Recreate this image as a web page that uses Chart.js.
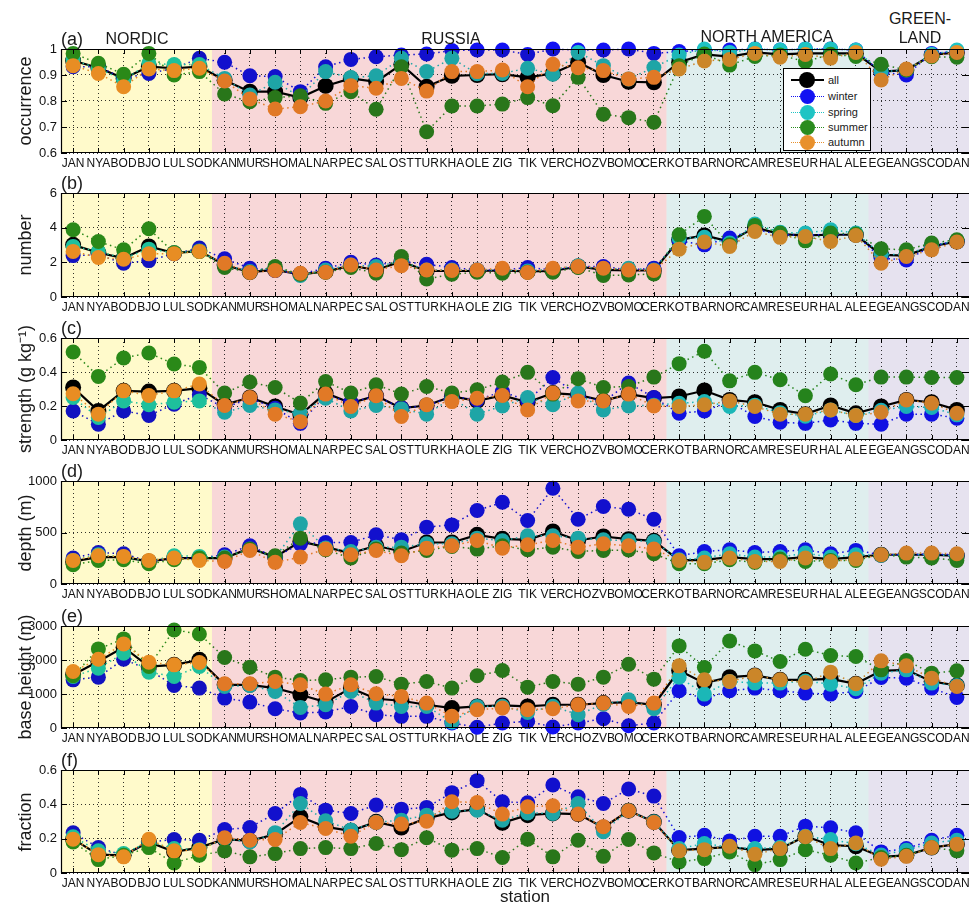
<!DOCTYPE html>
<html><head><meta charset="utf-8">
<script src="https://cdn.jsdelivr.net/npm/chart.js@4.4.1/dist/chart.umd.min.js"></script>
<style>
html,body{margin:0;padding:0;background:#fff;overflow:hidden;}
#wrap{position:relative;width:977px;height:904px;font-family:"Liberation Sans",Arial,sans-serif;color:#1a1a1a;}
canvas{position:absolute;left:0;}
.lab{position:absolute;white-space:nowrap;line-height:1;transform:translate(-50%,-50%);}
.ytitle{position:absolute;white-space:nowrap;font-size:18px;line-height:18px;transform:translate(-50%,-50%) rotate(-90deg);}
#legend{position:absolute;left:783px;top:68px;width:86px;height:81px;border:1px solid #000;background:#fff;font-size:11px;}
.lrow{position:absolute;left:0;width:86px;height:14px;}
.lline{position:absolute;left:7px;width:33px;top:7px;height:0;}
.ldot{position:absolute;left:16px;top:0px;width:15px;height:15px;border-radius:50%;}
.ltext{position:absolute;left:44px;top:0px;line-height:14px;}
</style></head><body><div id="wrap"></div>
<script>
const stations = ['JAN','NYA','BOD','BJO','LUL','SOD','KAN','MUR','SHO','MAL','NAR','PEC','SAL','OST','TUR','KHA','OLE','ZIG','TIK','VER','CHO','ZVB','OMO','CER','KOT','BAR','NOR','CAM','RES','EUR','HAL','ALE','EGE','ANG','SCO','DAN'];
const seriesNames = ['all','winter','spring','summer','autumn'];
const regionNames = ['NORDIC','RUSSIA','NORTH AMERICA','GREEN-\nLAND'];
const regionBounds = [0.52, 6.5, 24.5, 32.5, 36.48];

// (a) occurrence
const occAll    = [0.955,0.928,0.887,0.932,0.926,0.932,0.880,0.836,0.836,0.813,0.858,0.887,0.874,0.941,0.855,0.897,0.900,0.903,0.891,0.906,0.949,0.900,0.874,0.872,0.949,0.979,0.971,0.987,0.979,0.983,0.983,0.983,0.913,0.919,0.977,0.987];
const occWinter = [0.932,0.932,0.887,0.906,0.926,0.964,0.949,0.897,0.894,0.836,0.932,0.960,0.970,0.977,0.981,0.994,0.996,0.996,0.979,1.000,0.996,0.996,1.000,0.983,0.990,0.996,0.996,1.000,0.996,1.000,1.000,0.996,0.910,0.900,0.983,0.990];
const occSpring = [0.958,0.925,0.880,0.945,0.940,0.940,0.887,0.823,0.872,0.817,0.913,0.890,0.897,0.964,0.913,0.964,0.905,0.906,0.926,0.903,0.987,0.936,0.885,0.929,0.977,1.000,0.987,1.000,0.996,1.000,1.000,0.996,0.913,0.919,0.980,0.996];
const occSummer = [0.983,0.945,0.903,0.983,0.900,0.913,0.827,0.797,0.813,0.820,0.791,0.836,0.768,0.932,0.682,0.781,0.781,0.788,0.813,0.782,0.891,0.749,0.736,0.718,0.936,0.981,0.938,0.971,0.977,0.951,0.980,0.971,0.941,0.919,0.970,0.968];
const occAutumn = [0.936,0.906,0.855,0.923,0.917,0.926,0.877,0.808,0.769,0.778,0.800,0.859,0.849,0.887,0.838,0.913,0.913,0.919,0.855,0.941,0.928,0.917,0.885,0.891,0.923,0.954,0.960,0.983,0.968,0.979,0.965,0.987,0.881,0.923,0.973,0.987];

// (b) number
const numAll    = [3.01,2.55,2.24,2.92,2.53,2.66,1.85,1.43,1.56,1.31,1.47,1.81,1.56,2.05,1.50,1.50,1.50,1.53,1.47,1.50,1.76,1.56,1.53,1.53,3.30,3.55,3.20,4.02,3.63,3.55,3.59,3.59,2.43,2.39,2.92,3.20];
const numWinter = [2.39,2.43,1.95,2.10,2.50,2.82,2.20,1.66,1.53,1.33,1.66,2.00,1.85,2.05,1.89,1.70,1.56,1.56,1.70,1.56,1.76,1.76,1.56,1.66,3.24,3.01,3.40,3.90,3.60,3.55,3.63,3.59,2.24,2.14,2.92,3.24];
const numSpring = [2.92,2.63,2.24,2.76,2.55,2.66,1.85,1.47,1.72,1.24,1.56,1.85,1.76,2.05,1.56,1.56,1.56,1.56,1.50,1.60,1.80,1.60,1.66,1.56,3.40,3.44,3.11,4.21,3.73,3.69,3.88,3.69,2.47,2.43,2.97,3.24];
const numSummer = [3.88,3.20,2.72,3.94,2.55,2.63,1.70,1.43,1.76,1.31,1.43,1.70,1.37,2.34,1.04,1.31,1.43,1.37,1.43,1.43,1.70,1.24,1.27,1.33,3.59,4.65,3.01,4.13,3.69,3.24,3.69,3.63,2.78,2.72,3.11,3.30];
const numAutumn = [2.63,2.28,2.18,2.49,2.50,2.63,1.95,1.41,1.53,1.37,1.43,1.85,1.56,1.81,1.56,1.53,1.56,1.66,1.41,1.66,1.76,1.66,1.56,1.53,2.76,3.17,2.92,3.78,3.44,3.49,3.20,3.55,1.95,2.34,2.72,3.17];

// (c) strength
const strAll    = [0.309,0.171,0.289,0.285,0.289,0.305,0.207,0.250,0.197,0.148,0.276,0.217,0.260,0.187,0.203,0.256,0.230,0.262,0.222,0.276,0.266,0.230,0.270,0.246,0.256,0.291,0.236,0.222,0.177,0.152,0.203,0.157,0.197,0.236,0.222,0.177];
const strWinter = [0.171,0.093,0.171,0.144,0.211,0.266,0.190,0.245,0.187,0.098,0.265,0.222,0.256,0.190,0.200,0.256,0.236,0.285,0.230,0.368,0.266,0.225,0.335,0.250,0.157,0.171,0.225,0.138,0.104,0.098,0.118,0.098,0.093,0.152,0.152,0.128];
const strSpring = [0.250,0.132,0.230,0.207,0.222,0.230,0.163,0.203,0.177,0.157,0.246,0.171,0.203,0.183,0.152,0.246,0.152,0.200,0.250,0.207,0.276,0.177,0.200,0.205,0.216,0.226,0.197,0.205,0.160,0.140,0.177,0.144,0.175,0.197,0.191,0.148];
const strSummer = [0.518,0.374,0.482,0.512,0.447,0.427,0.276,0.341,0.309,0.217,0.344,0.276,0.325,0.270,0.315,0.276,0.295,0.341,0.398,0.270,0.360,0.309,0.315,0.370,0.449,0.522,0.348,0.398,0.354,0.260,0.388,0.325,0.370,0.370,0.368,0.368];
const strAutumn = [0.272,0.152,0.289,0.262,0.289,0.329,0.203,0.250,0.152,0.108,0.270,0.197,0.260,0.138,0.207,0.226,0.246,0.262,0.177,0.276,0.230,0.230,0.270,0.200,0.197,0.207,0.230,0.197,0.152,0.152,0.177,0.144,0.163,0.236,0.216,0.157];

// (d) depth
const depAll    = [219,261,261,219,252,252,252,348,261,413,358,300,371,316,403,403,477,439,429,510,423,461,435,419,229,235,261,242,242,261,242,261,284,284,284,274];
const depWinter = [252,306,294,219,252,252,284,371,261,390,403,403,477,429,552,574,713,794,616,929,629,752,726,629,274,316,332,306,316,332,294,326,284,284,290,284];
const depSpring = [229,284,261,219,274,268,261,340,261,584,350,316,358,358,390,390,445,420,468,468,445,430,420,413,235,252,294,261,261,300,261,284,280,284,284,274];
const depSummer = [187,229,235,197,235,252,252,340,274,445,332,252,340,300,326,365,339,371,332,358,316,326,330,294,197,197,235,210,242,219,229,229,284,261,252,229];
const depAutumn = [229,274,268,229,252,229,219,326,210,261,339,284,326,274,348,371,423,348,381,423,358,390,371,339,229,210,252,219,219,252,219,242,284,300,300,294];

// (e) base height
const baseAll    = [1564,1955,2375,1808,1857,2004,1271,1271,1173,978,762,1173,860,802,684,587,635,665,635,684,684,733,762,684,1691,1320,1496,1545,1417,1417,1447,1300,1681,1711,1369,1251];
const baseWinter = [1417,1496,2023,1711,1251,1173,880,762,567,440,469,635,391,342,342,150,20,147,196,29,147,274,68,147,1095,860,1095,1173,1095,1026,997,1075,1486,1466,1173,899];
const baseSpring = [1515,1760,2199,1642,1515,1808,1222,1251,1075,606,684,1075,733,635,635,176,635,640,459,640,391,700,831,567,1496,997,1369,1320,1320,1380,1290,1153,1613,1711,1320,1251];
const baseSummer = [1535,2326,2620,1808,2884,2766,2072,1789,1496,1398,1417,1496,1515,1290,1369,1173,1535,1691,1202,1369,1290,1496,1877,1437,2414,1779,2561,2268,1955,2317,2131,2102,1711,1984,1613,1681];
const baseAutumn = [1662,2023,2473,1935,1857,1926,1300,1300,1369,1271,997,1271,1007,929,733,342,538,587,538,567,684,733,635,733,1828,1417,1369,1545,1417,1339,1642,1300,1975,1828,1466,1222];

// (f) fraction
const fracAll    = [0.197,0.107,0.103,0.181,0.123,0.148,0.197,0.187,0.226,0.327,0.269,0.246,0.298,0.265,0.318,0.353,0.372,0.292,0.337,0.347,0.343,0.265,0.363,0.298,0.133,0.142,0.152,0.133,0.142,0.214,0.162,0.156,0.094,0.103,0.148,0.168];
const fracWinter = [0.234,0.148,0.103,0.181,0.195,0.191,0.253,0.265,0.347,0.458,0.366,0.347,0.396,0.372,0.382,0.468,0.538,0.415,0.409,0.513,0.444,0.405,0.489,0.448,0.207,0.220,0.187,0.214,0.214,0.273,0.263,0.234,0.123,0.142,0.191,0.220];
const fracSpring = [0.211,0.129,0.113,0.181,0.142,0.136,0.200,0.181,0.234,0.405,0.304,0.250,0.295,0.308,0.337,0.360,0.366,0.308,0.350,0.347,0.405,0.240,0.363,0.298,0.142,0.172,0.150,0.142,0.150,0.214,0.195,0.170,0.105,0.133,0.175,0.191];
const fracSummer = [0.181,0.078,0.103,0.148,0.058,0.103,0.129,0.094,0.113,0.142,0.148,0.142,0.172,0.136,0.205,0.133,0.142,0.090,0.197,0.094,0.191,0.097,0.195,0.117,0.064,0.084,0.123,0.049,0.078,0.136,0.103,0.058,0.090,0.103,0.148,0.129];
const fracAutumn = [0.197,0.107,0.094,0.197,0.129,0.133,0.205,0.191,0.195,0.294,0.259,0.214,0.294,0.285,0.302,0.415,0.411,0.343,0.386,0.392,0.343,0.269,0.363,0.294,0.129,0.136,0.156,0.109,0.142,0.211,0.142,0.175,0.080,0.097,0.148,0.168];

// ---- styling ----
const seriesColors = ['#000000','#1212f2','#1ec4c4','#2a8c1e','#e8902c'];
const regionColors = ['#fffacb','#f8d7d8','#dfeeee','#e6e2ef'];

const panels = [
  {tag:'(a)', title:'occurrence',        top:49,  bottom:153, min:0.6, max:1,    step:0.1,  data:[occAll,occWinter,occSpring,occSummer,occAutumn]},
  {tag:'(b)', title:'number',            top:193, bottom:297, min:0,   max:6,    step:2,    data:[numAll,numWinter,numSpring,numSummer,numAutumn]},
  {tag:'(c)', title:'strength (g kg\u207B\u00B9)', top:338, bottom:440, min:0, max:0.6, step:0.2, data:[strAll,strWinter,strSpring,strSummer,strAutumn]},
  {tag:'(d)', title:'depth (m)',         top:481, bottom:584, min:0,   max:1000, step:500,  data:[depAll,depWinter,depSpring,depSummer,depAutumn]},
  {tag:'(e)', title:'base height (m)',   top:626, bottom:728, min:0,   max:3000, step:1000, data:[baseAll,baseWinter,baseSpring,baseSummer,baseAutumn]},
  {tag:'(f)', title:'fraction',          top:770, bottom:873, min:0,   max:0.6,  step:0.2,  data:[fracAll,fracWinter,fracSpring,fracSummer,fracAutumn]}
];

Chart.defaults.font.family = "'Liberation Sans', Arial, sans-serif";
Chart.defaults.color = '#1a1a1a';

const PAD_TOP = 20, XAXIS_H = 24, YAXIS_W = 61, W = 977;

const decorPlugin = {
  id: 'decor',
  afterDatasetsDraw(chart) {
    const {ctx, chartArea: a, scales: {x, y}} = chart;
    ctx.save();
    ctx.beginPath(); ctx.rect(a.left, a.top, a.right - a.left, a.bottom - a.top); ctx.clip();
    ctx.globalCompositeOperation = 'multiply';
    for (let r = 0; r < regionColors.length; r++) {
      const x0 = x.getPixelForValue(regionBounds[r]);
      const x1 = x.getPixelForValue(regionBounds[r + 1]);
      ctx.fillStyle = regionColors[r];
      ctx.fillRect(x0, a.top, x1 - x0, a.bottom - a.top);
    }
    ctx.restore();
    ctx.save();
    ctx.strokeStyle = '#000';
    ctx.lineWidth = 1.2;
    ctx.beginPath();
    ctx.moveTo(a.right, a.top + 0.5); ctx.lineTo(a.left + 0.5, a.top + 0.5);
    ctx.lineTo(a.left + 0.5, a.bottom - 0.5); ctx.lineTo(a.right, a.bottom - 0.5);
    ctx.stroke();
    ctx.lineWidth = 1;
    ctx.beginPath();
    x.ticks.forEach(t => {
      const px = Math.round(x.getPixelForValue(t.value)) + 0.5;
      ctx.moveTo(px, a.top); ctx.lineTo(px, a.top + 5);
      ctx.moveTo(px, a.bottom); ctx.lineTo(px, a.bottom - 5);
    });
    y.ticks.forEach(t => {
      const py = Math.round(y.getPixelForValue(t.value)) + 0.5;
      ctx.moveTo(a.left, py); ctx.lineTo(a.left + 6, py);
      ctx.moveTo(a.right, py); ctx.lineTo(a.right - 7, py);
    });
    ctx.stroke();
    ctx.restore();
  }
};

const wrap = document.getElementById('wrap');

function addLabel(text, cx, cy, size, cls) {
  const d = document.createElement('div');
  d.className = cls || 'lab';
  d.style.left = cx + 'px';
  d.style.top = cy + 'px';
  d.style.fontSize = size + 'px';
  d.textContent = text;
  wrap.appendChild(d);
  return d;
}

panels.forEach((p, pi) => {
  const cv = document.createElement('canvas');
  const H = (p.bottom - p.top) + PAD_TOP + XAXIS_H;
  cv.width = W; cv.height = H;
  cv.style.width = W + 'px'; cv.style.height = H + 'px';
  cv.style.top = (p.top - PAD_TOP) + 'px';
  wrap.appendChild(cv);

  const datasets = p.data.map((arr, si) => {
    const isAll = si === 0;
    return {
      label: seriesNames[si],
      data: arr.map((v, j) => ({x: j + 1, y: v})),
      borderColor: seriesColors[si],
      backgroundColor: seriesColors[si],
      pointBackgroundColor: seriesColors[si],
      pointBorderColor: seriesColors[si],
      pointBorderWidth: 0,
      pointRadius: isAll ? 8 : 7.5,
      pointHoverRadius: isAll ? 8 : 7.5,
      borderWidth: isAll ? 2.2 : 1.5,
      borderDash: isAll ? [] : [1.5, 3.5],
      tension: 0,
      clip: false,
      order: 5 - si
    };
  });

  new Chart(cv, {
    type: 'line',
    data: {datasets},
    options: {
      responsive: false,
      animation: false,
      events: [],
      layout: {padding: {top: PAD_TOP, right: 0, bottom: 0, left: 0}},
      plugins: {legend: {display: false}, tooltip: {enabled: false}},
      scales: {
        x: {
          type: 'linear', min: regionBounds[0], max: regionBounds[regionBounds.length - 1],
          afterBuildTicks: s => { s.ticks = stations.map((_, i) => ({value: i + 1})); },
          afterFit: s => { s.height = XAXIS_H; },
          ticks: {
            autoSkip: false, maxRotation: 0, minRotation: 0, padding: 3,
            font: {size: 12}, color: '#111',
            callback: v => stations[Math.round(v) - 1] || ''
          },
          grid: {color: 'rgba(0,0,0,0.8)', lineWidth: 1, drawTicks: false},
          border: {display: false, dash: [1, 3]}
        },
        y: {
          type: 'linear', min: p.min, max: p.max,
          afterFit: s => { s.width = YAXIS_W; },
          ticks: {
            stepSize: p.step, padding: 4, font: {size: 13}, color: '#111',
            callback: v => String(+(+v).toFixed(3))
          },
          grid: {color: 'rgba(0,0,0,0.8)', lineWidth: 1, drawTicks: false},
          border: {display: false, dash: [1, 3]}
        }
      }
    },
    plugins: [decorPlugin]
  });

  const tag = addLabel(p.tag, 61, p.top - 10, 18);
  tag.style.transform = 'translate(0,-50%)';
  addLabel(p.title, 25, (p.top + p.bottom) / 2, 18, 'ytitle');
});

addLabel(regionNames[0], 137, 39, 16);
addLabel(regionNames[1], 451, 39, 16);
addLabel(regionNames[2], 767, 37, 16);
const gl = regionNames[3].split('\n');
addLabel(gl[0], 920, 19, 16);
addLabel(gl[1], 920, 38, 16);

addLabel('station', 525, 896, 17);

const lg = document.createElement('div');
lg.id = 'legend';
const rowY = [4, 20, 36, 51, 66];
seriesNames.forEach((n, i) => {
  const row = document.createElement('div');
  row.className = 'lrow';
  row.style.top = rowY[i] + 'px';
  const line = document.createElement('div');
  line.className = 'lline';
  line.style.borderTop = i === 0 ? '2px solid #000' : '1.5px dotted ' + seriesColors[i];
  line.style.top = (i === 0 ? 6 : 6.5) + 'px';
  const dot = document.createElement('div');
  dot.className = 'ldot';
  dot.style.background = seriesColors[i];
  if (i === 0) { dot.style.width = '16px'; dot.style.height = '16px'; dot.style.left = '15px'; dot.style.top = '-1px'; }
  const tx = document.createElement('div');
  tx.className = 'ltext';
  tx.textContent = n;
  row.appendChild(line); row.appendChild(dot); row.appendChild(tx);
  lg.appendChild(row);
});
wrap.appendChild(lg);
</script>
</body></html>
